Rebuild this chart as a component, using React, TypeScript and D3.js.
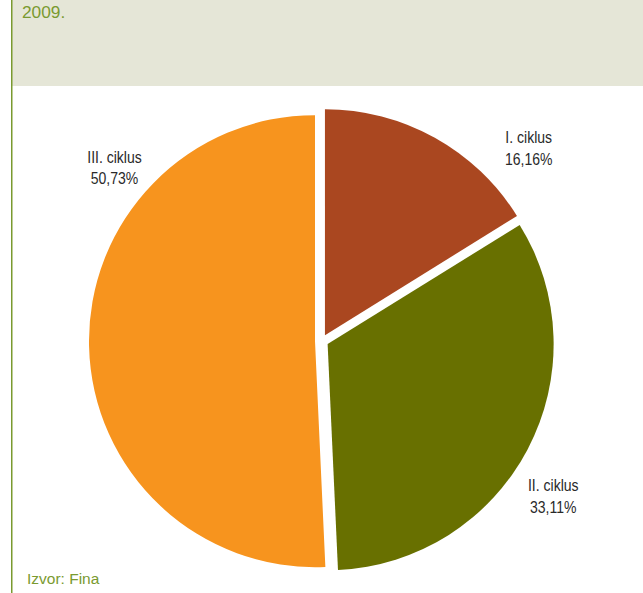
import React from "react";
import * as d3 from "d3";

const categories = ["I. ciklus", "II. ciklus", "III. ciklus"];
const shares = [16.16, 33.11, 50.73];
const colors = ["#aa4720", "#687000", "#f7941e"];

const W = 643;
const H = 593;
const cx = 321.7;
const cy = 341;
const radius = 226;
const explode = 6.7;

// label anchors: polar offset from pie centre (degrees clockwise from top, distance)
const labelPolar = [
  { angle: 47.9, dist: 279 },
  { angle: 124.8, dist: 282 },
  { angle: 309, dist: 266.6 },
];

const fmt = (v: number) => v.toFixed(2).replace(".", ",") + "%";

const App: React.FC = () => {
  const pie = d3.pie<number>().sort(null).value((d) => d);
  const arcs = pie(shares);
  const arc = d3.arc<d3.PieArcDatum<number>>().innerRadius(0).outerRadius(radius);
  const green = "#7a9a30";

  return (
    <svg
      width={W}
      height={H}
      style={{ position: "absolute", left: 0, top: 0 }}
      fontFamily="'Liberation Sans', Arial, sans-serif"
    >
      <rect x={0} y={0} width={W} height={H} fill="#fff" />
      <rect x={12} y={0} width={W - 12} height={86} fill="#e5e6d7" />
      <rect x={11} y={0} width={1.5} height={H} fill={green} />
      <text x={22} y={18} fontSize={17.3} fill={green}>
        2009.
      </text>

      <g transform={`translate(${cx},${cy})`}>
        {arcs.map((a, i) => {
          const mid = (a.startAngle + a.endAngle) / 2;
          const dx = Math.sin(mid) * explode;
          const dy = -Math.cos(mid) * explode;
          return (
            <path
              key={categories[i]}
              d={arc(a) || ""}
              fill={colors[i]}
              transform={`translate(${dx},${dy})`}
            />
          );
        })}
        {arcs.map((a, i) => {
          const p = labelPolar[i];
          const t = (p.angle * Math.PI) / 180;
          const x = Math.sin(t) * p.dist;
          const y = -Math.cos(t) * p.dist;
          // condensed look of the original labels
          return (
            <g key={"l" + i} transform={`translate(${x},${y}) scale(0.85,1)`}>
              <text textAnchor="middle" fontSize={16.5} fill="#2a2a2a">
                <tspan x={0} dy={-10.5}>
                  {categories[i]}
                </tspan>
                <tspan x={0} dy={21.5}>
                  {fmt(a.data)}
                </tspan>
              </text>
            </g>
          );
        })}
      </g>

      <text x={27} y={584} fontSize={15.5} fill={green}>
        Izvor: Fina
      </text>
    </svg>
  );
};

export default App;
